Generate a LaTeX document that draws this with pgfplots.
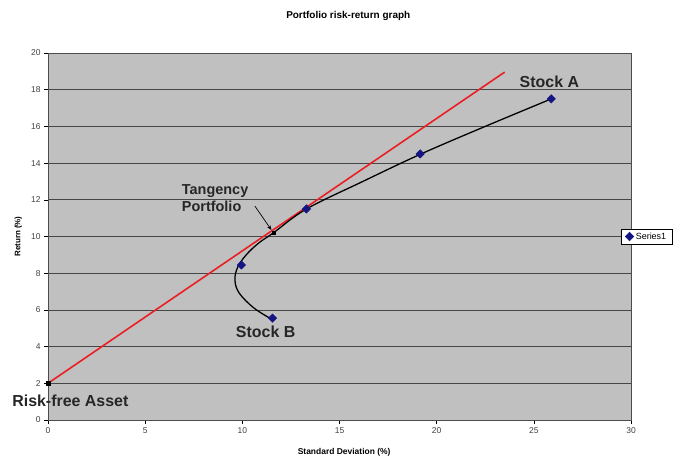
\documentclass[border=0pt]{standalone}
\usepackage{pgfplots}
\pgfplotsset{compat=1.18}
\usetikzlibrary{arrows.meta}
\usepackage{fontspec}
\setmainfont{Liberation Sans}
\definecolor{plotgray}{RGB}{192,192,192}
\definecolor{gridgray}{RGB}{70,70,70}
\definecolor{navymark}{RGB}{20,20,130}
\definecolor{redline}{RGB}{235,30,35}
\begin{document}
\begin{tikzpicture}
\path[use as bounding box] (-48bp,-39bp) rectangle (648bp,420bp);
\begin{axis}[
  scale only axis, width=583bp, height=367bp,
  xmin=0, xmax=30, ymin=0, ymax=20,
  xtick={0,5,...,30}, ytick={0,2,...,20},
  axis background/.style={fill=plotgray},
  ymajorgrids, grid style={draw=gridgray, line width=0.8pt},
  axis line style={draw=gray!60!black, line width=0.6pt},
  tick align=outside, major tick length=4bp,
  tick style={black, line width=0.5pt},
  xtick pos=bottom, ytick pos=left,
  ticklabel style={font=\fontsize{8.5}{9}\selectfont, text=black!75},
  /pgf/number format/assume math mode=true,
  title={Portfolio risk-return graph},
  title style={font=\bfseries\fontsize{10}{11}\selectfont, at={(axis description cs:0.515,1.085)}, anchor=center},
  xlabel={Standard Deviation (\%)},
  xlabel style={font=\bfseries\fontsize{8.5}{9}\selectfont, at={(axis description cs:0.508,-0.087)}, anchor=center},
  ylabel={Return (\%)},
  ylabel style={font=\bfseries\fontsize{8}{9}\selectfont, at={(axis description cs:-0.051,0.5)}, anchor=center},
  legend style={at={(axis description cs:0.983,0.5)}, anchor=west, font=\fontsize{9}{10}\selectfont,
    draw=black, line width=0.5pt, inner xsep=4pt, inner ysep=1.5pt, row sep=0pt},
  legend cell align=left,
  clip=false,
]
% Capital market line
\addplot[redline, line width=1.6pt, forget plot] coordinates {(0,2) (23.5,18.96)};
% Efficient frontier curve
\addplot[black, line width=1.3pt, smooth, tension=0.6, forget plot] coordinates {
  (11.5,5.5) (10.6,6.1) (9.85,6.9) (9.62,7.6) (9.75,8.3) (10.2,9.0) (10.85,9.65) (11.6,10.2)
  (13.3,11.5) (16.2,13.0) (19.2,14.5) (22.5,16.0) (25.9,17.5)};
% Series1 markers
\addplot[only marks, mark=square*, mark size=3bp, color=navymark,
  mark options={rotate=45}] coordinates {
  (25.9,17.5) (19.15,14.5) (13.3,11.5) (9.95,8.45) (11.55,5.55)};
\addlegendentry{Series1}
% Tangency and risk-free points
\addplot[only marks, mark=square*, mark size=1.7bp, black, forget plot] coordinates {(11.6,10.2) (0,2)};
% Annotations
\node[font=\bfseries\fontsize{16}{17}\selectfont, text=black!85] at (axis cs:25.8,18.45) {Stock A};
\node[font=\bfseries\fontsize{16}{17}\selectfont, text=black!85] at (axis cs:11.2,4.8) {Stock B};
\node[font=\bfseries\fontsize{16}{17}\selectfont, text=black!85] at (axis cs:1.15,1.03) {Risk-free Asset};
\node[font=\bfseries\fontsize{14.5}{16.5}\selectfont, text=black!85, align=left] at (axis cs:8.6,12.1) {Tangency\\Portfolio};
\draw[-{Stealth[length=5bp]}, line width=0.7pt] (axis cs:10.65,11.65) -- (axis cs:11.5,10.35);
\end{axis}
\end{tikzpicture}
\end{document}
